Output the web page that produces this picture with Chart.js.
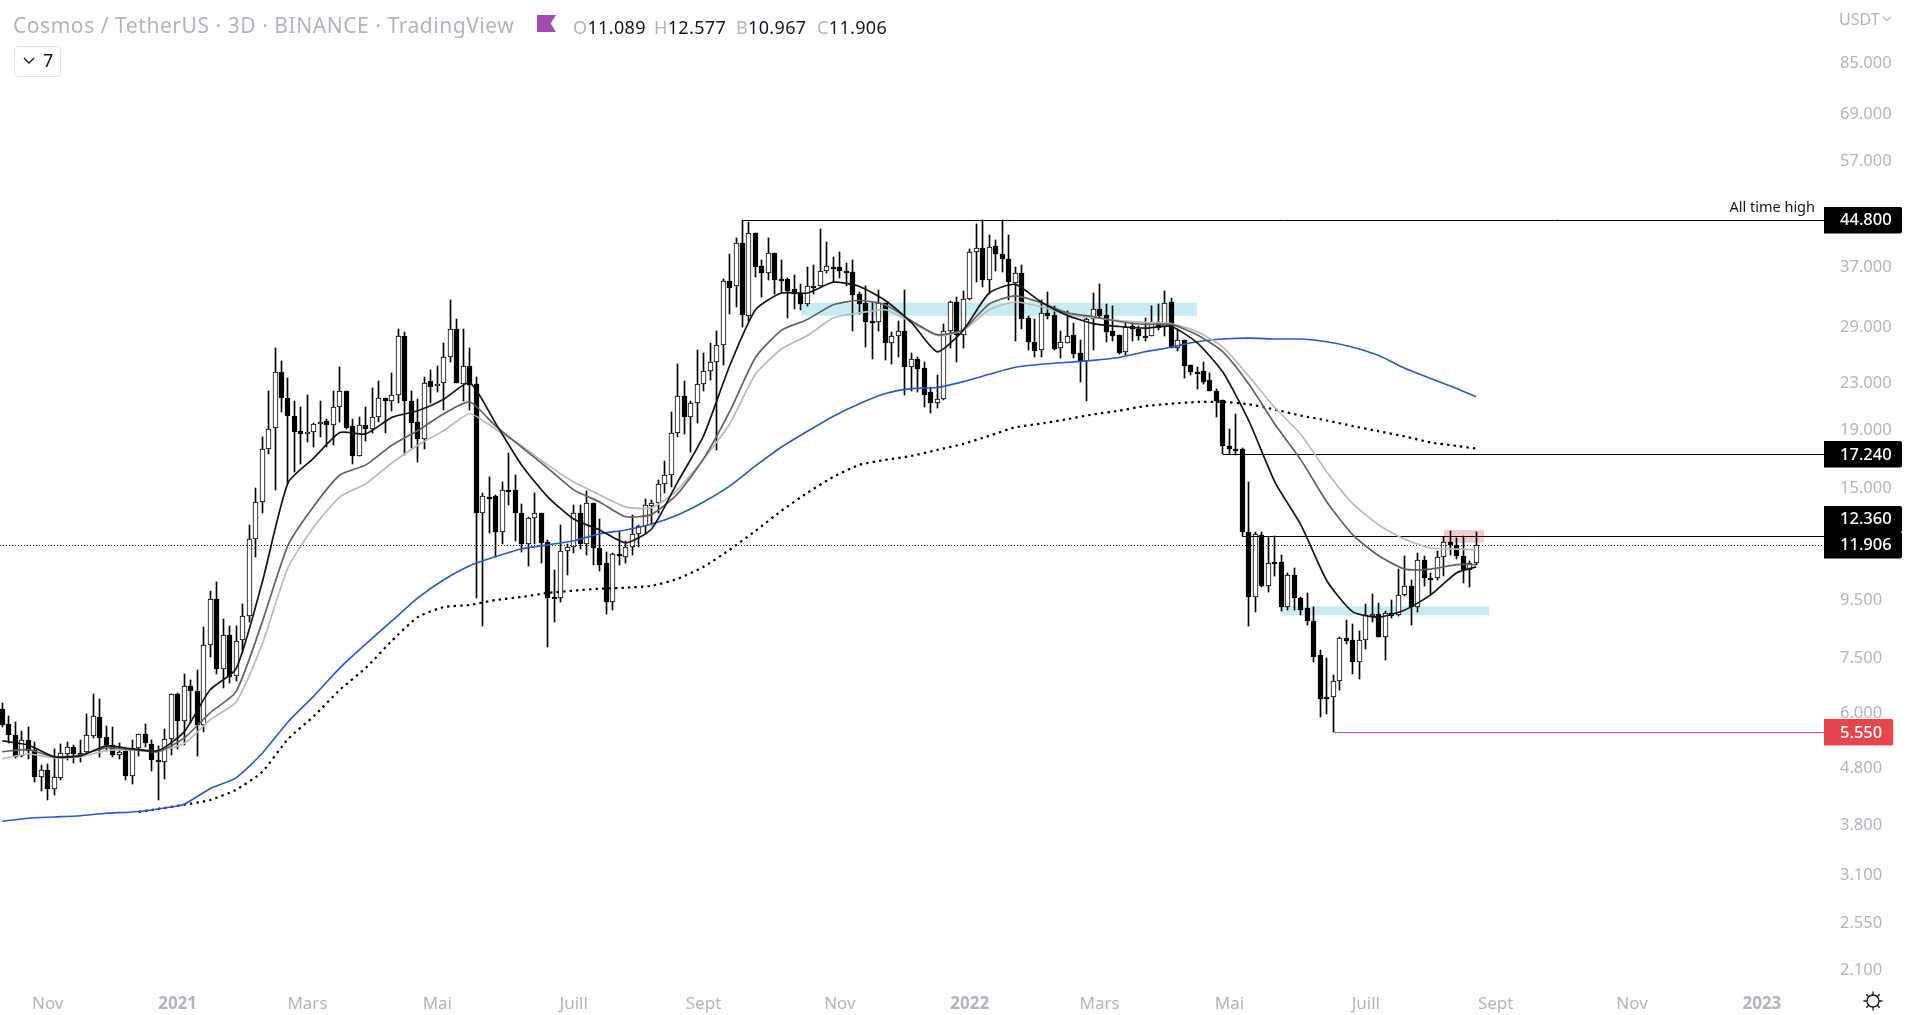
<!DOCTYPE html>
<html><head><meta charset="utf-8">
<style>
html,body{margin:0;padding:0;background:#fff;width:1920px;height:1015px;overflow:hidden;font-family:"Noto Sans",sans-serif}
#wrap{position:relative;width:1920px;height:1015px}
canvas{position:absolute;left:0;top:0}
.t{position:absolute;white-space:nowrap;color:#131722;line-height:24px}
.g{color:#b2b5be}
</style></head><body>
<div id="wrap">
<canvas id="c" width="1920" height="1015"></canvas>
<div class="t g" style="left:13px;top:13px;font-size:21px;letter-spacing:.55px" id="title">Cosmos / TetherUS · 3D · BINANCE · TradingView</div>
<div style="position:absolute;left:537px;top:15px;width:19px;height:17px;background:#a04cb4;clip-path:polygon(0 0,100% 0,72% 50%,100% 100%,0 100%)"></div>
<div class="t" style="left:573px;top:15px;font-size:18px;letter-spacing:.35px"><span class="g">O</span>11.089</div>
<div class="t" style="left:654px;top:15px;font-size:18px;letter-spacing:.35px"><span class="g">H</span>12.577</div>
<div class="t" style="left:736px;top:15px;font-size:18px;letter-spacing:.35px"><span class="g">B</span>10.967</div>
<div class="t" style="left:817px;top:15px;font-size:18px;letter-spacing:.35px"><span class="g">C</span>11.906</div>
<div style="position:absolute;left:14px;top:46px;width:45px;height:29px;border:1px solid #e0e3eb;border-radius:4px"></div>
<svg style="position:absolute;left:23px;top:56px" width="12" height="10"><path d="M1 2 L6 7 L11 2" fill="none" stroke="#131722" stroke-width="1.3"/></svg>
<div class="t" style="left:43px;top:48px;font-size:18px">7</div>
<div class="t g" style="left:1839px;top:7px;font-size:16px">USDT</div>
<svg style="position:absolute;left:1882px;top:15px" width="10" height="8"><path d="M1 2 L5 5.5 L9 2" fill="none" stroke="#b2b5be" stroke-width="1.2"/></svg>
<svg style="position:absolute;left:1862px;top:990px" width="22" height="22"><g fill="none" stroke="#131722" stroke-width="1.3"><circle cx="11" cy="11" r="6"/><path d="M11 1.5V5M11 17V20.5M1.5 11H5M17 11H20.5M4.3 4.3L6.7 6.7M15.3 15.3L17.7 17.7M4.3 17.7L6.7 15.3M15.3 6.7L17.7 4.3"/></g></svg>
</div>
<script src="https://cdn.jsdelivr.net/npm/chart.js@4/dist/chart.umd.min.js"></script>
<script>
const opens=[6.10,5.75,5.49,5.03,5.37,5.17,4.63,4.76,4.40,4.60,5.09,5.23,5.11,5.12,5.47,5.90,5.44,5.27,5.06,5.14,4.65,5.20,5.52,5.30,4.96,4.92,5.39,6.49,5.82,6.71,6.58,5.71,7.92,9.55,7.18,8.25,6.97,8.09,8.92,12.2,14.2,17.6,19.2,24.1,21.7,20.2,18.95,18.8,18.9,19.55,19.75,19.45,20.95,22.3,19.35,17.1,19.4,19.1,20.1,21.7,21.4,22.0,27.9,21.4,19.65,18.35,23.3,22.8,23.1,25.65,28.75,23.0,24.7,23.0,13.6,14.5,14.55,12.55,14.9,14.9,13.6,11.95,13.3,13.6,12.05,9.65,9.6,11.65,11.8,13.55,11.95,14.15,11.75,11.05,9.45,11.5,11.35,11.8,12.45,12.85,13.95,14.15,15.25,15.85,18.8,21.85,20.05,21.3,23.0,24.2,25.15,26.95,35.0,34.2,40.9,30.35,42.6,37.15,36.2,39.2,35.25,35.2,33.8,33.2,31.8,34.3,34.2,36.5,37.0,37.0,36.4,36.3,33.1,32.0,29.65,29.6,32.0,27.2,28.0,28.5,24.65,25.4,24.5,22.2,21.3,21.6,28.5,32.1,28.1,32.45,39.3,40.0,35.1,40.3,39.1,38.3,34.75,36.1,30.1,27.3,26.35,30.7,30.4,26.6,27.2,28.1,26.05,25.2,30.0,31.2,30.5,28.5,28.1,26.15,29.05,28.8,28.0,28.0,29.6,29.0,32.05,26.6,27.5,24.85,24.15,24.2,23.35,22.3,21.5,17.85,17.65,17.65,12.55,9.65,12.4,10.1,11.1,11.1,9.25,10.55,9.6,9.2,8.75,7.6,6.4,6.41,6.83,8.15,8.1,7.4,8.1,8.92,9.0,8.18,9.03,8.95,9.7,10.1,9.25,11.2,10.4,10.4,11.35,12.05,11.9,11.4,10.75,11.089];
const highs=[6.25,5.93,5.79,5.58,5.67,5.34,4.86,4.88,5.18,5.30,5.33,5.26,5.37,5.99,6.49,6.35,5.70,5.67,5.31,5.19,5.37,5.51,5.75,5.38,5.25,5.62,6.50,6.52,7.05,6.86,7.15,8.52,9.89,10.24,8.80,8.55,8.57,9.36,12.93,15.03,18.5,22.3,26.6,25.2,23.5,21.4,20.9,22.0,19.6,21.4,19.9,22.3,24.6,22.3,19.95,20.1,20.9,22.6,23.3,21.7,24.0,28.7,28.4,22.3,21.6,23.6,24.3,24.7,27.2,32.4,29.95,28.8,26.6,23.6,14.7,15.7,14.6,15.4,17.35,15.85,14.1,13.35,14.7,13.6,12.15,10.77,12.95,11.95,14.0,14.05,14.85,14.15,13.25,11.6,11.55,12.6,12.1,13.45,12.95,14.4,14.3,15.5,16.75,20.5,24.9,23.25,21.45,26.4,26.1,27.2,28.5,35.3,39.1,41.6,44.8,44.4,42.6,38.1,41.7,39.2,38.1,35.4,35.9,34.6,37.0,37.3,43.3,41.0,38.6,39.4,37.7,38.1,33.4,34.2,32.0,33.7,32.0,28.4,29.7,33.7,26.1,25.7,25.1,22.7,23.85,29.3,32.2,32.7,33.6,39.9,44.2,44.8,42.2,41.3,44.8,42.2,37.0,37.3,30.35,29.95,32.4,33.4,31.6,28.5,30.9,29.5,27.5,30.3,33.3,34.6,31.9,31.6,28.1,29.6,29.6,29.1,30.1,31.6,31.9,33.6,32.6,28.7,27.5,24.85,24.6,25.1,24.0,22.5,21.5,19.1,20.3,17.7,15.4,12.55,12.55,12.3,12.35,11.45,10.65,10.85,9.65,9.8,9.25,7.77,7.5,7.0,8.2,8.78,8.65,8.4,9.35,9.77,9.4,9.12,9.52,10.8,11.4,10.35,11.55,11.4,10.65,11.65,12.3,12.6,12.25,12.35,11.15,12.577];
const lows=[5.66,5.31,5.00,5.02,4.98,4.53,4.36,4.21,4.29,4.57,4.95,4.89,4.92,5.09,5.42,5.02,5.14,5.02,4.98,4.57,4.50,5.04,5.22,4.74,4.21,4.58,5.05,5.19,5.28,5.76,5.03,5.55,7.55,7.04,6.65,6.80,6.83,7.72,8.69,11.33,13.6,17.3,14.9,20.5,15.3,16.05,16.6,18.1,17.8,18.5,17.8,17.9,19.7,19.1,16.6,17.1,18.2,18.8,19.7,18.8,20.6,21.3,17.2,17.7,16.7,17.6,21.3,22.2,20.7,25.1,23.1,21.4,20.7,9.6,8.55,12.5,11.35,11.95,14.0,12.1,11.6,10.95,11.95,11.05,7.85,8.7,9.45,10.55,11.55,11.7,11.45,11.0,10.7,9.0,9.15,10.98,11.05,11.45,11.8,12.5,12.95,13.6,14.7,15.1,18.5,18.7,17.4,19.6,22.3,23.4,17.55,24.8,30.6,31.5,29.0,29.7,35.5,32.8,35.1,33.1,33.3,30.1,31.15,31.1,31.6,33.1,34.2,36.1,34.9,35.4,34.2,28.5,30.6,26.7,25.4,28.5,25.3,24.9,25.7,22.0,22.3,22.2,20.9,20.4,20.8,21.5,26.6,25.1,26.6,32.4,34.8,34.1,33.1,36.5,36.3,32.3,27.4,28.7,26.4,25.6,25.7,29.9,26.4,25.5,27.15,25.5,23.2,21.4,26.4,30.1,27.3,27.4,26.0,25.9,27.4,27.5,27.4,27.95,28.6,28.0,26.6,26.3,23.5,23.8,22.5,23.0,22.3,20.05,17.24,17.24,17.2,12.36,8.55,9.05,10.05,9.85,10.5,9.1,9.15,9.15,8.95,8.6,7.4,5.9,5.97,5.55,6.6,7.97,7.05,6.9,7.8,8.72,8.18,7.46,8.85,8.93,9.68,8.6,9.05,10.1,9.7,10.35,10.5,11.45,11.25,10.2,10.05,10.967];
const closes=[5.72,5.49,5.02,5.37,5.15,4.63,4.75,4.40,4.62,5.10,5.22,5.09,5.09,5.48,5.93,5.43,5.27,5.05,5.12,4.64,5.20,5.51,5.31,4.95,4.91,5.39,6.48,5.82,6.70,6.56,5.71,7.92,9.55,7.18,8.25,6.96,8.05,8.92,12.2,14.2,17.6,19.15,24.1,21.7,20.2,18.9,18.75,18.9,19.55,19.7,19.45,20.95,22.3,19.2,17.1,19.4,19.1,20.1,21.7,21.4,22.0,27.9,21.4,19.6,18.35,23.1,22.7,23.0,25.65,28.75,23.1,24.7,22.85,13.6,14.55,14.45,12.55,14.9,14.85,13.55,11.95,13.3,13.6,12.0,9.6,9.6,11.65,11.8,13.55,11.95,14.15,11.75,11.0,9.45,11.5,11.42,11.8,12.45,12.85,14.0,14.15,15.25,15.85,18.8,21.85,20.05,21.3,23.0,24.2,25.15,26.95,34.95,34.0,40.9,30.4,42.6,37.1,36.2,39.2,35.1,35.15,33.6,33.1,31.8,34.3,34.2,36.4,37.15,36.9,36.5,36.3,33.0,31.8,29.6,29.55,32.0,27.2,28.0,28.5,24.65,25.4,24.4,22.0,21.3,21.6,28.5,32.1,28.05,32.45,39.3,40.0,35.1,40.25,39.0,38.2,34.8,36.1,30.0,27.25,26.3,30.7,30.35,26.5,27.3,28.0,26.0,25.2,30.0,31.15,30.35,28.4,28.0,26.1,29.0,28.8,28.0,27.85,29.6,28.9,32.0,26.6,27.5,24.75,24.1,24.1,23.2,22.3,21.4,17.85,17.6,17.6,12.55,9.65,12.45,10.1,11.05,11.05,9.25,10.55,9.6,9.14,8.75,7.55,6.37,6.36,6.83,8.15,8.05,7.4,8.1,8.95,9.0,8.18,9.03,8.93,9.7,10.1,9.25,11.2,10.4,10.35,11.35,12.05,11.9,11.4,10.75,11.09,11.906];

const maBars=[0,4,8,12,16,20,24,28,32,36,40,44,48,52,56,60,64,68,72,76,80,84,88,92,96,100,104,108,112,116,120,124,128,132,136,140,144,148,152,156,160,164,168,172,176,180,184,188,192,196,200,204,208,212,216,220,224,227];
const maFast=[5.36,5.27,5.02,5.04,5.25,5.19,5.15,5.56,6.60,7.19,10.2,15.35,17.0,18.85,18.75,20.05,20.6,21.6,23.1,19.55,16.5,14.5,13.25,12.67,12.02,12.72,15.4,18.6,24.7,31.1,33.3,33.3,34.8,34.2,32.3,29.55,26.2,28.6,33.3,34.5,32.1,30.4,29.4,29.05,28.85,29.05,27.2,24.1,19.75,15.4,12.93,10.3,9.07,8.88,9.14,9.72,10.64,10.9];
const maMid=[5.13,5.17,5.02,5.06,5.21,5.17,5.13,5.42,6.01,6.55,8.68,11.9,13.97,15.85,16.52,17.9,19.0,20.35,21.35,19.35,17.75,16.3,14.92,14.2,13.37,13.5,14.68,16.93,20.5,25.6,28.6,29.9,31.75,32.3,31.75,29.75,28.1,28.7,31.85,32.9,32.0,30.7,30.25,29.65,29.3,29.3,28.1,26.2,22.95,19.5,16.86,14.2,12.42,11.4,10.8,10.8,11.0,11.0];
const maSlow=[4.98,5.08,5.0,5.02,5.15,5.17,5.15,5.3,5.84,6.28,7.93,10.86,12.83,14.5,15.3,16.65,17.9,19.0,20.35,19.1,17.85,16.52,15.4,14.62,13.92,13.86,14.92,16.93,19.5,23.9,26.5,28.0,30.1,30.7,31.1,29.55,28.0,28.6,31.1,32.1,31.5,30.5,30.1,29.75,29.55,29.4,28.45,26.7,23.7,20.85,18.7,16.05,14.1,12.93,12.2,11.77,11.72,11.68];
const maBlue=[3.86,3.91,3.93,3.95,3.99,4.01,4.06,4.14,4.41,4.61,5.09,5.79,6.44,7.22,7.96,8.74,9.6,10.34,10.95,11.36,11.73,11.92,12.12,12.47,12.67,12.98,13.47,14.2,15.15,16.45,17.77,18.95,20.15,21.2,22.1,22.55,22.65,23.2,23.9,24.6,24.9,25.1,25.3,25.6,26.2,26.7,27.3,27.6,27.7,27.6,27.6,27.3,26.7,25.8,24.5,23.5,22.55,21.8];
const dotBars=[21,24,28,32,36,40,44,48,52,56,60,64,68,72,76,80,84,88,92,96,100,104,108,112,116,120,124,128,132,136,140,144,148,152,156,160,164,168,172,176,180,184,188,192,196,200,204,208,212,216,220,224,227];
const maDotted=[4.01,4.06,4.13,4.21,4.39,4.72,5.4,5.93,6.6,7.22,8.06,8.88,9.25,9.33,9.52,9.64,9.8,9.89,9.97,10.01,10.09,10.38,10.9,11.68,12.62,13.7,14.74,15.73,16.52,16.86,17.13,17.56,18.0,18.6,19.25,19.55,19.9,20.3,20.6,21.0,21.2,21.35,21.35,21.15,20.7,20.2,19.8,19.35,18.95,18.55,18.1,17.85,17.65];

const levelPrices=[44.8,17.24,12.36,5.55];
const levelStartBars=[114,188,191,205];
const lastPrice=11.906;
const zoneStartBars=[123,197,222];
const zoneEndBars=[184,229,228.2];
const zoneHighs=[32.0,9.28,12.67];
const zoneLows=[30.35,8.95,12.02];
const priceTicks=[85,69,57,37,29,23,19,15,9.5,7.5,6,4.8,3.8,3.1,2.55,2.1];
const timeTickBars=[7,27,47,67,88,108,129,149,169,189,210,230,251,271];
const timeTickLabels=["Nov","2021","Mars","Mai","Juill","Sept","Nov","2022","Mars","Mai","Juill","Sept","Nov","2023"];
const levelNote="All time high";

const INK="#000000", AXIS="#b2b5be", RED="#e5454d";
const xMin=-0.354, xMax=280.72, yMin=1.972, yMax=110.02;
const FONT='"Noto Sans", sans-serif';
const zoneColors=["#c7ecf1","#c7ecf1","#f3ccd2"];
const isUp=i=>closes[i]>=opens[i];
const xy=(bars,vals)=>bars.map((b,i)=>({x:b,y:vals[i]}));

const datasets=[];
zoneHighs.forEach((hi,k)=>datasets.push({type:"line",order:20,
  data:[{x:zoneStartBars[k],y:hi},{x:zoneEndBars[k],y:hi}],
  fill:{value:zoneLows[k]},backgroundColor:zoneColors[k],borderWidth:0,pointRadius:0}));
datasets.push({type:"bar",order:11,isWick:true,
  data:opens.map((_,i)=>({x:i,y:[lows[i],highs[i]]})),
  backgroundColor:INK,borderWidth:0,barThickness:1,grouped:false});
datasets.push({type:"bar",order:10,isBody:true,
  data:opens.map((_,i)=>({x:i,y:[Math.min(opens[i],closes[i]),Math.max(opens[i],closes[i])]})),
  backgroundColor:opens.map((_,i)=>isUp(i)?"#ffffff":INK),
  borderColor:INK,borderWidth:1,borderSkipped:false,barThickness:5,grouped:false});
const line=(data,color,w,extra)=>Object.assign({type:"line",order:3,data,borderColor:color,borderWidth:w,
  pointRadius:0,fill:false,tension:0.2},extra||{});
datasets.push(line(xy(maBars,maBlue),"#2b58d0",1.6,{order:4}));
datasets.push(line(xy(dotBars,maDotted),"#000000",2.2,{order:4,borderDash:[2.4,4.1],borderCapStyle:"butt"}));
datasets.push(line(xy(maBars,maSlow),"#b8bac3",1.7,{order:3}));
datasets.push(line(xy(maBars,maMid),"#60626a",1.7,{order:2}));
datasets.push(line(xy(maBars,maFast),"#14151a",1.7,{order:1}));
levelPrices.forEach((p,k)=>datasets.push({type:"line",order:5,snap:true,
  data:[{x:levelStartBars[k],y:p},{x:xMax,y:p}],
  borderColor:p===5.55?RED:INK,borderWidth:1,pointRadius:0,fill:false}));
datasets.push({type:"line",order:5,snap:true,data:[{x:xMin,y:lastPrice},{x:xMax,y:lastPrice}],
  borderColor:"#131722",borderWidth:1,borderDash:[1,2],pointRadius:0,fill:false});

const snapPlugin={id:"snap",beforeDatasetsDraw(chart){
  chart.data.datasets.forEach((ds,i)=>{
    const meta=chart.getDatasetMeta(i);
    if(ds.isWick||ds.isBody){
      meta.data.forEach(el=>{
        el.x=Math.floor(el.x)+0.5;
        el.y=Math.round(el.y); el.base=Math.round(el.base);
        if(ds.isBody&&el.base-el.y<2) el.base=el.y+2;
      });
    } else if(ds.snap){
      meta.data.forEach(p=>{p.y=Math.floor(p.y)+0.5;});
    }
  });
}};
const tagPlugin={id:"tags",afterDraw(chart){
  const {ctx,scales:{y},chartArea:a}=chart;
  const tagH=26.4, all=[...levelPrices.map(p=>({p,c:p===5.55?RED:"#000"})),{p:lastPrice,c:"#000"}]
    .map(t=>Object.assign(t,{cy:y.getPixelForValue(t.p)})).sort((m,n)=>n.cy-m.cy);
  for(let i=1;i<all.length;i++){ if(all[i-1].cy-all[i].cy<tagH) all[i].cy=all[i-1].cy-tagH; }
  ctx.save();
  ctx.font='500 16.5px '+FONT; ctx.textBaseline="middle"; ctx.textAlign="left";
  const left=a.right-1;
  all.forEach(t=>{
    const s=t.p.toFixed(3), w=ctx.measureText(s).width+27;
    ctx.fillStyle=t.c; ctx.beginPath();
    ctx.roundRect(left,Math.round(t.cy-tagH/2),w>78?78:w,tagH,[0,2,2,0]); ctx.fill();
    ctx.fillStyle="#fff"; ctx.fillText(s,1840,t.cy+0.5);
  });
  ctx.fillStyle="#131722"; ctx.font='14.5px '+FONT; ctx.textAlign="right";
  ctx.fillText(levelNote,1815,y.getPixelForValue(levelPrices[0])-12.5);
  ctx.restore();
}};

new Chart(document.getElementById("c"),{
  type:"bar",
  data:{datasets},
  plugins:[snapPlugin,tagPlugin],
  options:{
    responsive:false,animation:false,devicePixelRatio:1,
    layout:{padding:0},
    plugins:{legend:{display:false},tooltip:{enabled:false},title:{display:false}},
    scales:{
      x:{type:"linear",min:xMin,max:xMax,offset:false,
        grid:{display:false},border:{display:false},
        afterBuildTicks:s=>{s.ticks=timeTickBars.map(v=>({value:v}));},
        afterFit:s=>{s.height=29;s.paddingLeft=0;s.paddingRight=0;},
        ticks:{autoSkip:false,maxRotation:0,minRotation:0,padding:0,color:AXIS,
          font:ctx=>({family:FONT,size:17,weight:/^20/.test(ctx.tick?timeTickLabels[timeTickBars.indexOf(ctx.tick.value)]:"")?"bold":"normal"}),
          callback:v=>timeTickLabels[timeTickBars.indexOf(v)]}},
      y:{type:"logarithmic",position:"right",min:yMin,max:yMax,
        grid:{display:false,drawTicks:false},border:{display:false},
        afterBuildTicks:s=>{s.ticks=priceTicks.map(v=>({value:v}));},
        afterFit:s=>{s.width=95;s.paddingTop=0;s.paddingBottom=0;},
        ticks:{autoSkip:false,padding:15,color:AXIS,font:{family:FONT,size:16.5},
          callback:v=>v.toFixed(3)}}
    }
  }
});
</script>
</body></html>
